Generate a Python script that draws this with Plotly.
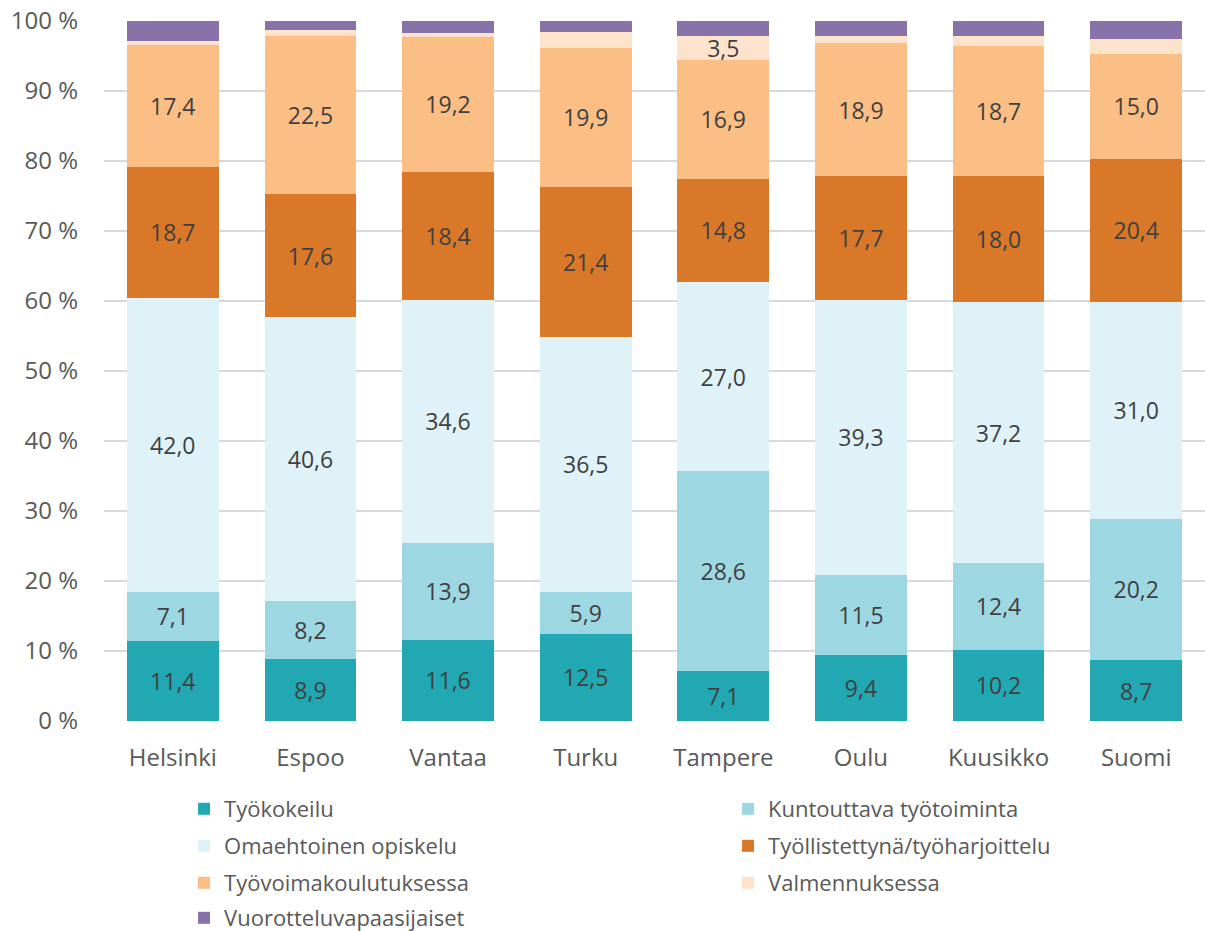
import plotly.graph_objects as go

cities = ["Helsinki", "Espoo", "Vantaa", "Turku", "Tampere", "Oulu", "Kuusikko", "Suomi"]

tyokokeilu = [11.4, 8.9, 11.6, 12.5, 7.1, 9.4, 10.2, 8.7]
kuntouttava = [7.1, 8.2, 13.9, 5.9, 28.6, 11.5, 12.4, 20.2]
omaehtoinen = [42.0, 40.6, 34.6, 36.5, 27.0, 39.3, 37.2, 31.0]
tyollistettyna = [18.7, 17.6, 18.4, 21.4, 14.8, 17.7, 18.0, 20.4]
tyovoimakoulutus = [17.4, 22.5, 19.2, 19.9, 16.9, 18.9, 18.7, 15.0]
valmennus = [0.5, 0.9, 0.6, 2.3, 3.5, 1.1, 1.3, 2.1]
vuorottelu = [2.9, 1.3, 1.7, 1.5, 2.1, 2.1, 2.2, 2.6]

series = [
    ("Työkokeilu", tyokokeilu, "#21A8B3", "legend"),
    ("Kuntouttava työtoiminta", kuntouttava, "#9DD7E1", "legend"),
    ("Omaehtoinen opiskelu", omaehtoinen, "#DFF2F7", "legend2"),
    ("Työllistettynä/työharjoittelu", tyollistettyna, "#D87828", "legend2"),
    ("Työvoimakoulutuksessa", tyovoimakoulutus, "#FBBE84", "legend3"),
    ("Valmennuksessa", valmennus, "#FDE3CC", "legend3"),
    ("Vuorotteluvapaasijaiset", vuorottelu, "#8773AA", "legend4"),
]

FONT = "Open Sans"
TXT = "#404040"
AX = "#595959"

fig = go.Figure()
for name, vals, color, leg in series:
    labels = [f"{v:.1f}".replace(".", ",") if v >= 3 else "" for v in vals]
    fig.add_trace(go.Bar(
        name=name, x=cities, y=vals, marker=dict(color=color, line=dict(width=0)),
        text=labels, textposition="inside", insidetextanchor="middle",
        textangle=0, textfont=dict(family=FONT, size=23, color=TXT),
        hoverinfo="skip", legend=leg,
    ))

def leg(yc):
    return dict(orientation="h", x=0.0727, y=(721 - yc) / 700, xanchor="left", yanchor="middle",
                traceorder="normal", entrywidth=499, entrywidthmode="pixels",
                font=dict(family=FONT, size=22, color=AX),
                itemwidth=30, bgcolor="rgba(0,0,0,0)")

fig.update_layout(
    barmode="stack",
    bargap=0.333,
    width=1205, height=931,
    margin=dict(l=104, r=0, t=21, b=210, autoexpand=False),
    paper_bgcolor="white", plot_bgcolor="white",
    font=dict(family=FONT, size=22, color=AX),
    uniformtext=dict(minsize=23, mode="show"),
    yaxis=dict(range=[0, 100], tickvals=list(range(0, 101, 10)),
               ticktext=[f"{v} %" for v in range(0, 101, 10)],
               showgrid=True, gridcolor="#D9D9D9", gridwidth=1.5,
               zeroline=False, ticks="", ticklabelstandoff=25,
               ticklabeloverflow="allow",
               tickfont=dict(family=FONT, size=24, color=AX)),
    xaxis=dict(showgrid=False, ticks="", showline=False, ticklabelstandoff=20,
               ticklabeloverflow="allow",
               tickfont=dict(family=FONT, size=24, color=AX)),
    legend=leg(809),
    legend2=leg(846),
    legend3=leg(883),
    legend4=leg(918),
    showlegend=True,
)

fig.write_html("out.html", config={"displayModeBar": False},
               post_script="document.body.style.margin='0';document.body.style.overflow='hidden';")
